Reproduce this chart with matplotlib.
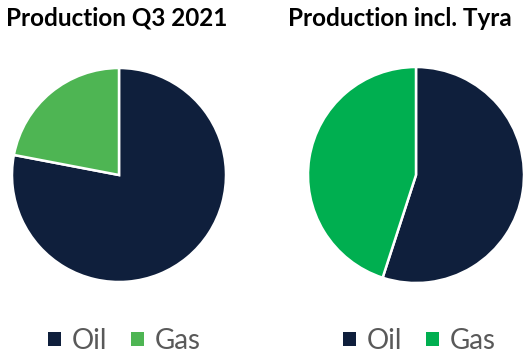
import matplotlib.pyplot as plt
from matplotlib.patches import Patch

labels = ['Oil', 'Gas']
q3_2021 = [78, 22]
incl_tyra = [55, 45]
titles = ['Production Q3 2021', 'Production incl. Tyra']

oil_color = '#0F1F3C'
gas_colors = ['#4EB553', '#00AF50']

W, H = 527, 357
fig = plt.figure(figsize=(W / 100, H / 100), dpi=100)

def draw_pie(cx, cy, r, values, gas_color, title, title_x, legend_cx):
    pad = 1.05
    size = 2 * r * pad
    ax = fig.add_axes([(cx - size / 2) / W, 1 - (cy + size / 2) / H, size / W, size / H])
    colors = [oil_color, gas_color]
    ax.pie(values, colors=colors, startangle=90, counterclock=False,
           wedgeprops=dict(edgecolor='white', linewidth=1.8))
    ax.set_xlim(-pad, pad)
    ax.set_ylim(-pad, pad)
    ax.set_aspect('equal')
    ax.axis('off')
    fig.text(title_x / W, 1 - 18 / H, title, ha='center', va='center',
             fontsize=17.5, fontweight='bold', family='Lato', color='black')
    handles = [Patch(facecolor=c, edgecolor='none') for c in colors]
    fig.legend(handles, labels, loc='center', bbox_to_anchor=(legend_cx / W, 1 - 341 / H),
               ncol=2, frameon=False, prop={'family': 'Lato', 'size': 20},
               labelcolor='#595959', handlelength=0.47, handleheight=0.35,
               handletextpad=0.4, columnspacing=0.85, borderpad=0)

draw_pie(119, 175, 107, q3_2021, gas_colors[0], titles[0], 117, 124.5)
draw_pie(416, 175, 108, incl_tyra, gas_colors[1], titles[1], 400, 419.5)

fig.savefig('out.png', dpi=100, facecolor='white')
